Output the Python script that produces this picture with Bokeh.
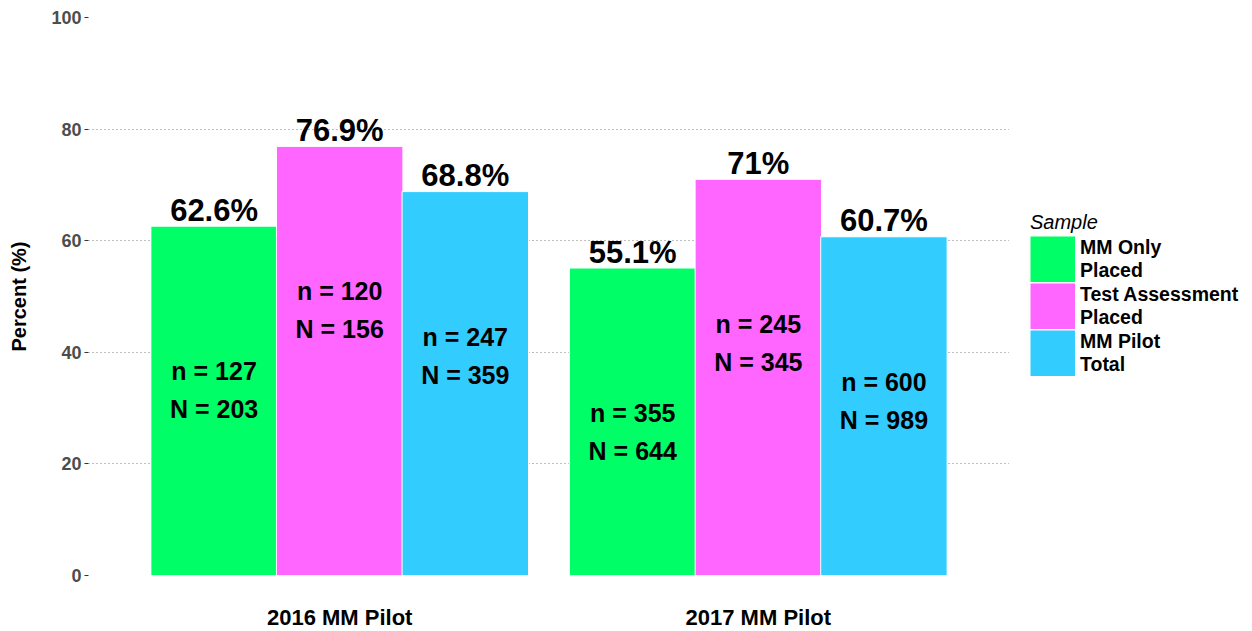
from bokeh.plotting import figure
from bokeh.layouts import row
from bokeh.models import (ColumnDataSource, FactorRange, Range1d, Legend, LegendItem,
                          FixedTicker)
from bokeh.transform import dodge
from bokeh.core.properties import value
from bokeh.embed import file_html
from bokeh.resources import INLINE

categories = ["2016 MM Pilot", "2017 MM Pilot"]
series = ["MM Only\nPlaced", "Test Assessment\nPlaced", "MM Pilot\nTotal"]
colors = ["#00FF66", "#FF66FF", "#33CCFF"]
mm_only = [62.6, 55.1]
test_assess = [76.9, 71.0]
pilot_total = [68.8, 60.7]
mm_only_lbl = ["62.6%", "55.1%"]
test_assess_lbl = ["76.9%", "71%"]
pilot_total_lbl = ["68.8%", "60.7%"]
mm_only_n = ["n = 127", "n = 355"]
mm_only_N = ["N = 203", "N = 644"]
test_assess_n = ["n = 120", "n = 245"]
test_assess_N = ["N = 156", "N = 345"]
pilot_total_n = ["n = 247", "n = 600"]
pilot_total_N = ["N = 359", "N = 989"]
y_ticks = [0, 20, 40, 60, 80, 100]

FONT = "Liberation Sans"

p = figure(x_range=FactorRange(factors=categories, range_padding=0.1),
           y_range=Range1d(0, 100),
           frame_width=921, frame_height=558,
           min_border_left=88, min_border_top=17, min_border_bottom=56, min_border_right=0,
           output_backend="svg", toolbar_location=None,
           background_fill_color="white", border_fill_color="white")
p.outline_line_color = None

# legend panel as a separate, axis-less figure (its renderers are hidden; only the legend shows)
lg = figure(width=243, height=631, x_range=FactorRange(factors=categories),
            y_range=Range1d(0, 100),
            x_axis_type=None, y_axis_type=None, min_border=0,
            output_backend="svg", toolbar_location=None,
            background_fill_color="white", border_fill_color="white")
lg.outline_line_color = None
lg.xgrid.grid_line_color = None
lg.ygrid.grid_line_color = None

series_data = [
    (mm_only, mm_only_lbl, mm_only_n, mm_only_N),
    (test_assess, test_assess_lbl, test_assess_n, test_assess_N),
    (pilot_total, pilot_total_lbl, pilot_total_n, pilot_total_N),
]
offsets = [-0.3, 0.0, 0.3]
items = []
for (vals, lbl, nn, NN), off, col, name in zip(series_data, offsets, colors, series):
    src = ColumnDataSource(dict(cat=categories, val=vals, lbl=lbl, n=nn, N=NN))
    p.vbar(x=dodge("cat", off, range=p.x_range), top="val", bottom=0, width=0.302,
           source=src, fill_color=col, line_color="white", line_width=1)
    p.text(x=dodge("cat", off, range=p.x_range), y="val", text="lbl", source=src,
           text_font=value(FONT), text_font_style="bold", text_font_size="31px",
           text_align="center", text_baseline="middle", y_offset=-16, text_color="black")
    p.text(x=dodge("cat", off, range=p.x_range), y="val", text="n", source=src,
           text_font=value(FONT), text_font_style="bold", text_font_size="25px",
           text_align="center", text_baseline="middle", y_offset=145, text_color="black")
    p.text(x=dodge("cat", off, range=p.x_range), y="val", text="N", source=src,
           text_font=value(FONT), text_font_style="bold", text_font_size="25px",
           text_align="center", text_baseline="middle", y_offset=183, text_color="black")
    r = lg.vbar(x="cat", top="val", bottom=0, width=0.3, source=src,
                fill_color=col, line_color=col, line_width=9, line_join="miter")
    r.visible = False
    items.append(LegendItem(label=name, renderers=[r]))

# axes
p.xgrid.grid_line_color = None
p.ygrid.grid_line_color = "#7F7F7F"
p.ygrid.grid_line_dash = "1 3"
p.ygrid.grid_line_width = 1
p.yaxis.ticker = FixedTicker(ticks=y_ticks)
p.yaxis.minor_tick_line_color = None
p.yaxis.axis_line_color = None
p.yaxis.major_tick_line_color = "#333333"
p.yaxis.major_tick_out = 4
p.yaxis.major_tick_in = 0
p.yaxis.major_label_standoff = 3
p.yaxis.major_label_text_font = FONT
p.yaxis.major_label_text_font_style = "bold"
p.yaxis.major_label_text_font_size = "18px"
p.yaxis.major_label_text_color = "#4D4D4D"
p.yaxis.axis_label = "Percent (%)"
p.yaxis.axis_label_text_font = FONT
p.yaxis.axis_label_text_font_style = "bold"
p.yaxis.axis_label_text_font_size = "20px"
p.yaxis.axis_label_text_color = "black"
p.yaxis.axis_label_standoff = 18

p.xaxis.axis_line_color = None
p.xaxis.major_tick_line_color = None
p.xaxis.minor_tick_line_color = None
p.xaxis.major_label_standoff = 23
p.xaxis.major_label_text_font = FONT
p.xaxis.major_label_text_font_style = "bold"
p.xaxis.major_label_text_font_size = "22px"
p.xaxis.major_label_text_color = "black"

legend = Legend(items=items, title="Sample", location=(21, 198),
                glyph_width=45, glyph_height=46, label_height=46, spacing=1,
                padding=0, margin=0, label_standoff=5,
                label_text_font=FONT, label_text_font_style="bold",
                label_text_font_size="19.5px", label_text_line_height=1.13,
                label_text_color="black",
                title_text_font=FONT, title_text_font_style="italic",
                title_text_font_size="20px", title_text_color="black", title_standoff=2,
                border_line_color=None, background_fill_color="white",
                background_fill_alpha=0, inactive_fill_alpha=0)
lg.add_layout(legend, "center")

layout = row(p, lg, spacing=0)
open("out.html", "w").write(file_html(layout, INLINE))
